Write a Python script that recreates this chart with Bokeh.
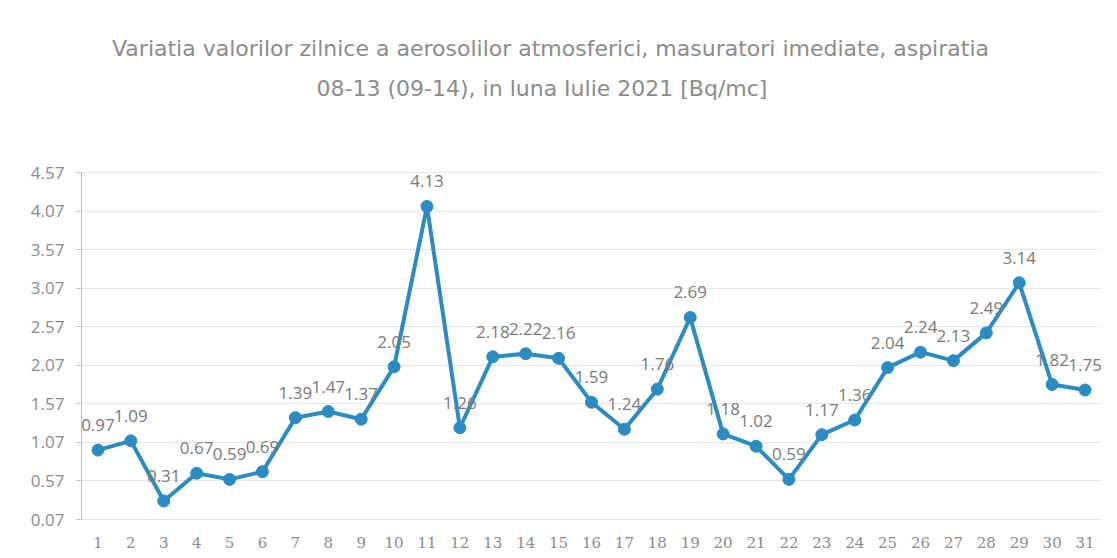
from bokeh.plotting import figure
from bokeh.models import (ColumnDataSource, Range1d, FixedTicker, PrintfTickFormatter,
                          LabelSet, Label)
from bokeh.core.properties import value
from bokeh.embed import file_html
from bokeh.resources import INLINE

days = list(range(1, 32))
values = [0.97, 1.09, 0.31, 0.67, 0.59, 0.69, 1.39, 1.47, 1.37, 2.05,
          4.13, 1.26, 2.18, 2.22, 2.16, 1.59, 1.24, 1.76, 2.69, 1.18,
          1.02, 0.59, 1.17, 1.36, 2.04, 2.24, 2.13, 2.49, 3.14, 1.82, 1.75]
y_ticks = [0.07, 0.57, 1.07, 1.57, 2.07, 2.57, 3.07, 3.57, 4.07, 4.57]
title_line1 = "Variatia valorilor zilnice a aerosolilor atmosferici, masuratori imediate, aspiratia"
title_line2 = "08-13 (09-14),  in luna Iulie 2021 [Bq/mc]"

labels = [f"{v:.2f}" for v in values]
src = ColumnDataSource(dict(x=days, y=values, lab=labels))

LINE = "#2b8cc4"
GRAY = "#8c8c8c"
W, H = 1101, 550
BL, BR, BB, BT = 81, 0, 31, 4
DATA_TOP_PX = 172          # canvas pixel where the value axis ends
x0, x1 = 0.5, 31.5
y0, y1 = y_ticks[0], y_ticks[-1]

fw = W - BL - BR
fh = H - BT - BB
frame_bottom = H - BB
ppu = (frame_bottom - DATA_TOP_PX) / (y1 - y0)
y_top = y0 + fh / ppu      # frame extends over the title area

p = figure(width=W, height=H, output_backend="svg", toolbar_location=None,
           x_range=Range1d(x0, x1), y_range=Range1d(y0, y_top),
           min_border_left=BL, min_border_right=BR, min_border_bottom=BB, min_border_top=BT)

def px_to_x(px):
    return x0 + (px - BL) / fw * (x1 - x0)
def py_to_y(py):
    return y0 + (frame_bottom - py) / ppu

for txt, cx, cy in ((title_line1, 550, 48), (title_line2, 545, 88)):
    p.add_layout(Label(x=px_to_x(cx), y=py_to_y(cy), text=txt,
                       text_align="center", text_baseline="middle",
                       text_font="DejaVu Sans", text_font_size="22px", text_color=GRAY))

p.outline_line_color = None
p.xgrid.grid_line_color = None
p.ygrid.grid_line_color = "#e6e6e6"
p.ygrid.grid_line_width = 1

p.yaxis.ticker = FixedTicker(ticks=y_ticks)
p.yaxis.bounds = (y0, y1)
p.yaxis.formatter = PrintfTickFormatter(format="%.2f")
p.yaxis.axis_line_color = "#9dc3e2"
p.yaxis.major_tick_line_color = "#9dc3e2"
p.yaxis.major_tick_out = 5
p.yaxis.major_tick_in = 0
p.yaxis.minor_tick_line_color = None
p.yaxis.major_label_text_color = GRAY
p.yaxis.major_label_text_font = "Open Sans"
p.yaxis.major_label_text_font_size = "17px"
p.yaxis.major_label_standoff = 12

p.xaxis.ticker = FixedTicker(ticks=days)
p.xaxis.axis_line_color = "#e6e6e6"
p.xaxis.major_tick_line_color = None
p.xaxis.minor_tick_line_color = None
p.xaxis.major_label_text_color = GRAY
p.xaxis.major_label_text_font = "DejaVu Serif"
p.xaxis.major_label_text_font_size = "15px"
p.xaxis.major_label_standoff = 11

p.line("x", "y", source=src, line_color=LINE, line_width=4)
p.scatter("x", "y", source=src, size=12, fill_color=LINE, line_color=LINE)

p.add_layout(LabelSet(x="x", y="y", text="lab", source=src, text_align="center",
                      text_baseline="middle", y_offset=25, text_color="#7a7a7a",
                      text_font=value("Open Sans"), text_font_size=value("17px")))

open("out.html", "w").write(file_html(p, INLINE))
